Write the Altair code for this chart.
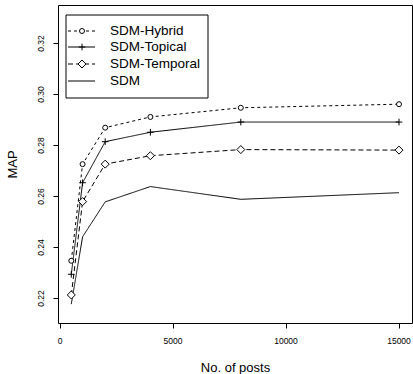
import altair as alt
import pandas as pd

posts = [500, 1000, 2000, 4000, 8000, 15000]
series_names = ["SDM-Hybrid", "SDM-Topical", "SDM-Temporal", "SDM"]
hybrid = [0.2346, 0.2725, 0.2868, 0.2910, 0.2946, 0.2960]
topical = [0.2293, 0.2652, 0.2813, 0.2850, 0.2890, 0.2890]
temporal = [0.2212, 0.2578, 0.2725, 0.2758, 0.2782, 0.2780]
sdm = [0.2176, 0.2440, 0.2577, 0.2637, 0.2587, 0.2613]
y_ticks = [0.22, 0.24, 0.26, 0.28, 0.30, 0.32]
x_ticks = [0, 5000, 10000, 15000]
x_tick_labels = ["0", "5000", "10000", "15000"]

rows = []
for name, vals in zip(series_names, [hybrid, topical, temporal, sdm]):
    for xv, yv in zip(posts, vals):
        rows.append({"posts": xv, "map": yv, "series": name})
df = pd.DataFrame(rows)
df_pts = df[df.series != "SDM"]

FONT = "Liberation Sans"
plus_path = "M-1,0L1,0M0,-1L0,1"

dash_scale = alt.Scale(domain=series_names, range=[[3, 3], [1, 0], [5, 3], [1, 0]])
shape_scale = alt.Scale(domain=series_names[:3], range=["circle", plus_path, "diamond"])
size_scale = alt.Scale(domain=series_names[:3], range=[25, 64, 45])

xs = alt.Scale(domain=[-88, 15575], nice=False, zero=False)
ys = alt.Scale(domain=[0.2102, 0.3349], nice=False, zero=False)

x_axis = alt.Axis(values=x_ticks, title="No. of posts", labels=False,
                  titleY=44, titleBaseline="middle")
y_axis = alt.Axis(values=y_ticks, title="MAP", format=".2f",
                  labelAngle=270, labelAlign="center", labelBaseline="bottom",
                  labelPadding=8, labelFlush=False, labelOverlap=False,
                  titleX=-46, titleY=159, titleBaseline="middle")

lines = alt.Chart(df).mark_line(color="black", strokeWidth=1).encode(
    x=alt.X("posts:Q", scale=xs, axis=x_axis),
    y=alt.Y("map:Q", scale=ys, axis=y_axis),
    strokeDash=alt.StrokeDash("series:N", scale=dash_scale, legend=None),
    detail="series:N",
)

points = alt.Chart(df_pts).mark_point(
    color="black", fill="white", filled=False, strokeWidth=1, opacity=1, fillOpacity=1
).encode(
    x=alt.X("posts:Q", scale=xs, axis=x_axis),
    y=alt.Y("map:Q", scale=ys, axis=y_axis),
    shape=alt.Shape("series:N", scale=shape_scale, legend=None),
    size=alt.Size("series:N", scale=size_scale, legend=None),
)

# manual legend (positions relative to the plot area)
leg_rows = [26, 42, 59, 76]
leg_df = pd.DataFrame({"series": series_names, "ly": leg_rows})
leg_pts_df = leg_df[leg_df.series != "SDM"]

leg_box = alt.Chart(pd.DataFrame({"a": [0]})).mark_rect(
    fill="white", stroke="black", strokeWidth=1
).encode(x=alt.value(8), x2=alt.value(150), y=alt.value(10), y2=alt.value(93))

leg_lines = alt.Chart(leg_df).mark_rule(color="black", strokeWidth=1).encode(
    x=alt.value(10), x2=alt.value(37),
    y=alt.Y("ly:Q", scale=None),
    strokeDash=alt.StrokeDash("series:N", scale=dash_scale, legend=None),
)

leg_points = alt.Chart(leg_pts_df).mark_point(
    color="black", fill="white", filled=False, strokeWidth=1, opacity=1, fillOpacity=1
).encode(
    x=alt.value(24),
    y=alt.Y("ly:Q", scale=None),
    shape=alt.Shape("series:N", scale=shape_scale, legend=None),
    size=alt.Size("series:N", scale=size_scale, legend=None),
)

leg_text = alt.Chart(leg_df).mark_text(
    align="left", baseline="middle", font=FONT, fontSize=13.5, color="black"
).encode(
    x=alt.value(52),
    y=alt.Y("ly:Q", scale=None),
    text="series:N",
)

# x tick labels as a text layer placed through the x scale (drawn last)
xlab_df = pd.DataFrame({"posts": x_ticks, "lab": x_tick_labels})
x_labels = alt.Chart(xlab_df).mark_text(
    baseline="top", align="center", font=FONT, fontSize=8.5, color="black", clip=False
).encode(
    x=alt.X("posts:Q", scale=xs, axis=x_axis),
    y=alt.value(332),
    text="lab:N",
)

chart = alt.layer(lines, points, leg_box, leg_lines, leg_points, leg_text, x_labels).properties(
    width=354, height=318,
    autosize=alt.AutoSizeParams(type="none"),
    padding={"left": 58, "top": 5, "right": 1, "bottom": 51},
).configure_view(
    stroke="black", strokeWidth=1
).configure_axis(
    domain=False, grid=False,
    tickColor="black", tickSize=5, tickWidth=1,
    labelColor="black", labelFont=FONT, labelFontSize=8.5,
    titleColor="black", titleFont=FONT, titleFontSize=13, titleFontWeight="normal",
)

chart.save("out.html", embed_options={"renderer": "svg", "actions": False})
